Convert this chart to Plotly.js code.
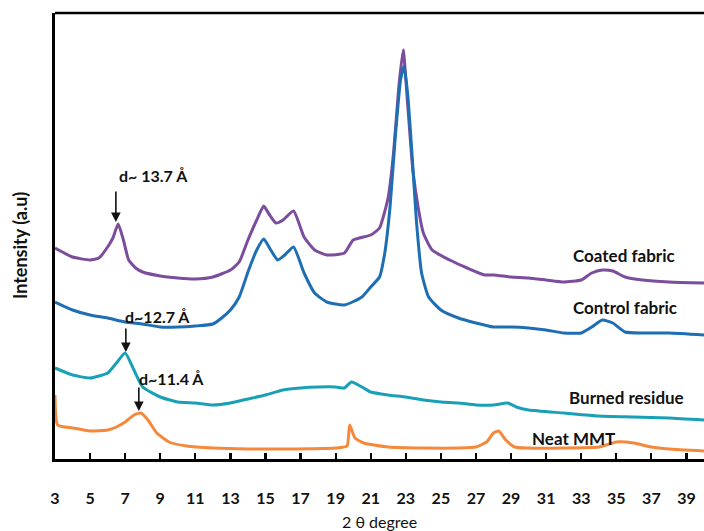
<!DOCTYPE html>
<html>
<head>
<meta charset="utf-8">
<script src="https://cdn.plot.ly/plotly-3.0.1.min.js"></script>
<style>html,body{margin:0;padding:0;background:#fff;}#chart{width:704px;height:531px;}</style>
</head>
<body>
<div id="chart"></div>
<script>
// 2θ values and intensities (a.u.)
const coatedX = [3,4,5,5.5,6,6.3,6.6,6.9,7.2,7.6,8,9,10,11,12,13,13.5,14,14.5,14.9,15.2,15.6,16,16.6,17.2,17.8,18.5,19.5,20,21,21.5,22,22.3,22.6,22.85,23.1,23.4,23.7,24,24.5,25.5,26.5,27.5,28,29,30,31,32,33,33.6,34.2,34.8,35.5,36.5,38,40];
const coatedY = [211,202,199,201,212,221,235,219,199,191,187,183,181,180,182,189,197,219,239,253,245,236,239,248,222,209,204,206,219,224,231,262,306,372,409,356,289,252,226,209,199,191,184,184,182,181,179,177,179,186,189,188,182,179,177,176];

const controlX = [3,4,5,6,7,8,9,10,11,12,12.5,13,13.5,14,14.5,14.9,15.3,15.7,16.1,16.6,17.2,17.8,18.5,19.5,20.5,21,21.5,21.8,22.1,22.4,22.7,22.9,23.1,23.35,23.6,23.9,24.3,25,26,27,28,29,30,31,32,33,33.6,34.2,34.8,35.5,36.5,38,40];
const controlY = [157,149,144,141,137,135,132,132,133,135,141,149,162,187,209,220,209,199,204,212,186,166,157,154,162,172,182,206,252,322,379,393,366,306,239,186,162,149,141,136,132,132,131,129,126,126,132,139,136,127,126,126,124];

const burnedX = [3,4,5,6,6.5,7,7.5,8,9,10,11,12,13,14,15,16,17,18,19,19.5,19.9,20.5,21,22,23,24,25,26,27,28,28.8,29.3,30,32,34,36,38,40];
const burnedY = [91,84,81,86,96,106,89,72,62,57,56,54,56,60,64,69,71,72,72,71,77,72,67,64,62,59,57,56,54,54,56,52,49,46,43,42,41,39];

const neatX = [3,3.15,4,5,6,6.5,7,7.5,7.9,8.3,8.8,9.5,10.5,12,14,16,19,19.65,19.8,20.1,20.6,22,24,26,27,27.6,28,28.3,28.7,29.2,30,32,34,35,36,37,38,40];
const neatY = [64,34,31,28,29,32,37,44,46,39,26,17,13,11,10,10,11,13,34,21,16,12,11,11,12,17,26,28,19,12,11,11,12,17,16,12,10,8];

const seriesNames = ["Coated fabric","Control fabric","Burned residue","Neat MMT"];
const tickVals = [3,5,7,9,11,13,15,17,19,21,23,25,27,29,31,33,35,37,39];

const FONT = "Lato, 'Open Sans', 'Liberation Sans', sans-serif";
const colors = ["#7B4D9C","#1E6EB4","#1AA0B6","#F5883B"];
const data = [
  {x: coatedX, y: coatedY, name: seriesNames[0]},
  {x: controlX, y: controlY, name: seriesNames[1]},
  {x: burnedX, y: burnedY, name: seriesNames[2]},
  {x: neatX, y: neatY, name: seriesNames[3]}
].map((t,i)=>Object.assign(t,{type:'scatter',mode:'lines',line:{color:colors[i],width:3,shape:'spline',smoothing:0.5},hoverinfo:'x+y+name'}));

function lbl(text,x,y,size){return {text:text,x:x,y:y,xref:'x',yref:'y',showarrow:false,font:{family:FONT,size:size||17,color:'#111'},xanchor:'center',yanchor:'middle'};}
function arrow(x,y,ay){return {text:'',x:x,y:y,xref:'x',yref:'y',showarrow:true,ax:0,ay:ay,arrowhead:2,arrowsize:1.2,arrowwidth:1.6,arrowcolor:'#111'};}

const annotations = [
  lbl('<b>Coated fabric</b>',35.45,204),
  lbl('<b>Control fabric</b>',35.5,152),
  lbl('<b>Burned residue</b>',35.6,62),
  lbl('<b>Neat MMT</b>',32.55,21),
  lbl('<b>d~ 13.7 Å</b>',8.64,284,16),
  lbl('<b>d~12.7 Å</b>',8.87,143,16),
  lbl('<b>d~11.4 Å</b>',9.66,81,16),
  arrow(6.47,237,-32),
  arrow(7.04,107,-25),
  arrow(7.78,48,-25),
  {text:'<b>Intensity (a.u)</b>',textangle:-90,xref:'paper',yref:'y',x:0,y:213,xshift:-35,showarrow:false,font:{family:FONT,size:18,color:'#111'},xanchor:'center',yanchor:'middle'},
  {text:'2 θ degree',xref:'paper',yref:'paper',x:0.5,y:0,yshift:-62,showarrow:false,font:{family:FONT,size:16,color:'#111'},xanchor:'center',yanchor:'middle'}
];

const layout = {
  width:704, height:531,
  margin:{l:55,r:0,t:13,b:72},
  paper_bgcolor:'#fff', plot_bgcolor:'#fff',
  showlegend:false,
  xaxis:{range:[3,40],showgrid:false,zeroline:false,showline:true,linecolor:'#000',linewidth:2.6,
    ticks:'inside',ticklen:6,tickwidth:2.2,tickcolor:'#000',tickvals:tickVals,ticktext:tickVals.map(v=>'<b>'+v+'</b>'),
    ticklabelstandoff:23,tickfont:{family:FONT,size:16,color:'#111'}},
  yaxis:{range:[0,446],showgrid:false,zeroline:false,showline:true,linecolor:'#000',linewidth:2.6,
    showticklabels:false,ticks:''},
  shapes:[{type:'line',xref:'paper',yref:'paper',x0:0,x1:1,y0:1,y1:1,line:{color:'#000',width:2.6}}],
  annotations:annotations
};
Plotly.newPlot('chart',data,layout,{displayModeBar:false,staticPlot:true});
</script>
</body>
</html>
